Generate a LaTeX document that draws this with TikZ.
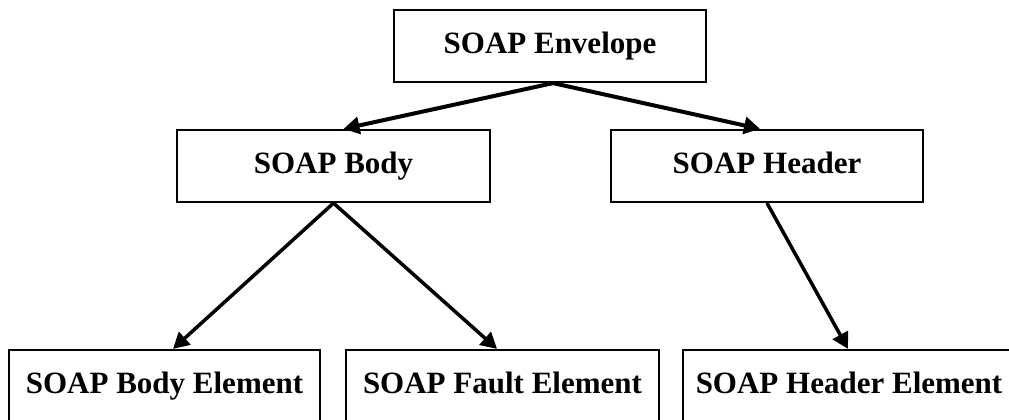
\documentclass[tikz,border=0pt]{standalone}
\usepackage{fontspec}
\setmainfont{Liberation Serif}
\usetikzlibrary{arrows.meta}

\tikzset{
  soapbox/.style={draw=black, line width=2.2pt, fill=white, inner sep=0pt,
    minimum height=72pt, text height=21pt, text depth=6pt,
    font=\fontsize{31}{35}\selectfont\bfseries},
  link/.style={line width=4pt, -{Triangle[length=16pt,width=17pt]}},
}

\begin{document}
\begin{tikzpicture}[x=1pt,y=-1pt]
  \useasboundingbox (0,0) rectangle (1009,420);
  \clip (0,0) rectangle (1009,420);

  % boxes
  \node[soapbox, minimum width=312pt] (env)  at (550,46)    {SOAP Envelope};
  \node[soapbox, minimum width=313pt] (body) at (333.5,166) {SOAP Body};
  \node[soapbox, minimum width=312pt] (hdr)  at (767,166)   {SOAP Header};
  \node[soapbox, minimum width=311pt] (bel)  at (164.5,386) {SOAP Body Element};
  \node[soapbox, minimum width=313pt] (fel)  at (502.5,386) {SOAP Fault Element};
  \node[soapbox, minimum width=332pt] (hel)  at (849,386)   {SOAP Header Element};

  % connectors
  \draw[link] ([xshift=3pt]env.south) -- ([xshift=10pt]body.north);
  \draw[link] ([xshift=3pt]env.south) -- ([xshift=-7pt]hdr.north);
  \draw[link, line width=3.5pt] (body.south) -- ([xshift=8.5pt]bel.north);
  \draw[link, line width=3.5pt] (body.south) -- ([xshift=-5.5pt]fel.north);
  \draw[link, line width=3.5pt] (hdr.south) -- ([xshift=-1pt]hel.north);
\end{tikzpicture}
\end{document}
